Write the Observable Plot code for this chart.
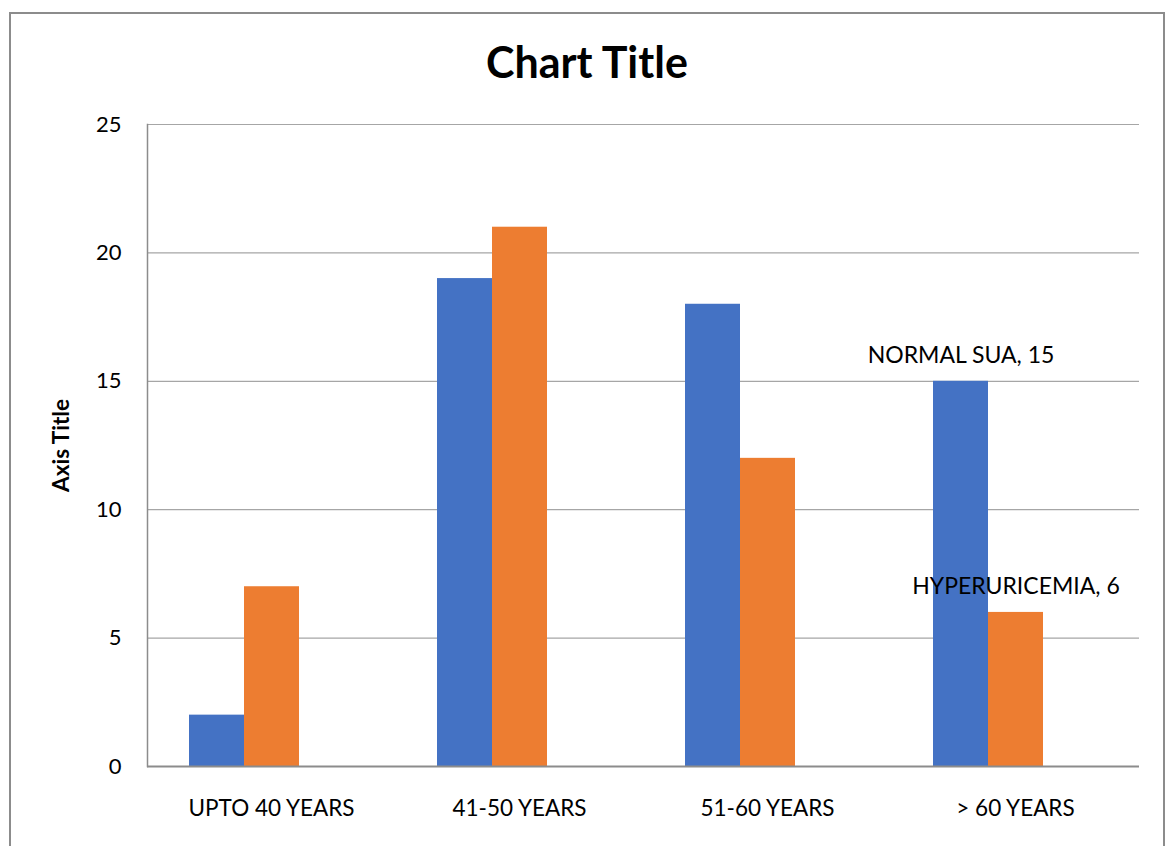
<!DOCTYPE html>
<html>
<head>
<meta charset="utf-8">
<script src="https://cdn.jsdelivr.net/npm/d3@7"></script>
<script src="https://cdn.jsdelivr.net/npm/@observablehq/plot@0.6"></script>
<style>
  html, body { margin: 0; padding: 0; background: #fff; overflow: hidden; }
  body { width: 1174px; height: 846px; position: relative; font-family: Lato, "Open Sans", sans-serif; }
  #frame { position: absolute; left: 9px; top: 12px; width: 1156px; height: 900px; border: 2px solid #8c8c8c; box-sizing: border-box; }
  #title { position: absolute; left: 0; top: 0; width: 1174px; height: 100px; text-align: center; font: bold 43px Lato, sans-serif; padding-top: 32px; box-sizing: border-box; line-height: 60px; color: #000; }
  #chart { position: absolute; left: 0; top: 100px; }
</style>
</head>
<body>
<div id="frame"></div>
<div id="title">Chart Title</div>
<div id="chart"></div>
<script>
// Age groups along the horizontal axis
const ageGroups = ["UPTO 40 YEARS", "41-50 YEARS", "51-60 YEARS", "> 60 YEARS"];
// Series names (the third slot is an empty series reserved in each group)
const seriesNames = ["NORMAL SUA", "HYPERURICEMIA", "Series3"];
// Counts per age group
const normalSua = [2, 19, 18, 15];
const hyperuricemia = [7, 21, 12, 6];
// Value axis ticks
const yTicks = [0, 5, 10, 15, 20, 25];
const gridTicks = [5, 10, 15, 20, 25];

const seriesColors = ["#4472C4", "#ED7D31", "#A5A5A5"];

const rows = [];
ageGroups.forEach((g, i) => {
  rows.push({group: g, series: seriesNames[0], value: normalSua[i]});
  rows.push({group: g, series: seriesNames[1], value: hyperuricemia[i]});
});

// Data labels shown on the last age group only
const lastGroup = ageGroups[ageGroups.length - 1];
const labelled = rows.filter(d => d.group === lastGroup);

const chart = Plot.plot({
  width: 1174,
  height: 746,
  marginLeft: 147,
  marginRight: 35,
  marginTop: 24,
  marginBottom: 80,
  style: {fontFamily: "Lato, 'Open Sans', sans-serif", color: "#000", background: "transparent"},
  fx: {domain: ageGroups, padding: 0, label: null},
  x: {domain: seriesNames, paddingInner: 0, paddingOuter: 0.75, axis: null},
  y: {domain: [0, 25], label: null},
  color: {domain: seriesNames, range: seriesColors},
  marks: [
    Plot.ruleY(gridTicks, {stroke: "#a6a6a6", strokeWidth: 1.2}),
    Plot.barY(rows, {fx: "group", x: "series", y: "value", fill: "series", insetLeft: 0, insetRight: 0}),
    Plot.ruleY([0], {stroke: "#8c8c8c", strokeWidth: 2.2}),
    Plot.frame({anchor: "left", stroke: "#8c8c8c", strokeWidth: 1.5, fx: () => ageGroups[0]}),
    Plot.axisY({ticks: yTicks, tickSize: 0, tickPadding: 26, fontSize: 22, anchor: "left", label: null}),
    Plot.axisY({ticks: [], anchor: "left", label: "Axis Title", labelAnchor: "center", labelArrow: "none", labelOffset: 94, fontSize: 22.5, fontWeight: "bold"}),
    Plot.axisFx({anchor: "bottom", tickSize: 0, tickPadding: 34, fontSize: 22.5, label: null}),
    Plot.text(labelled, {
      fx: "group", x: "series", y: "value",
      text: d => `${d.series}, ${d.value}`,
      dy: -26, fontSize: 23, fill: "#000"
    })
  ]
});
document.getElementById("chart").appendChild(chart);
</script>
</body>
</html>
